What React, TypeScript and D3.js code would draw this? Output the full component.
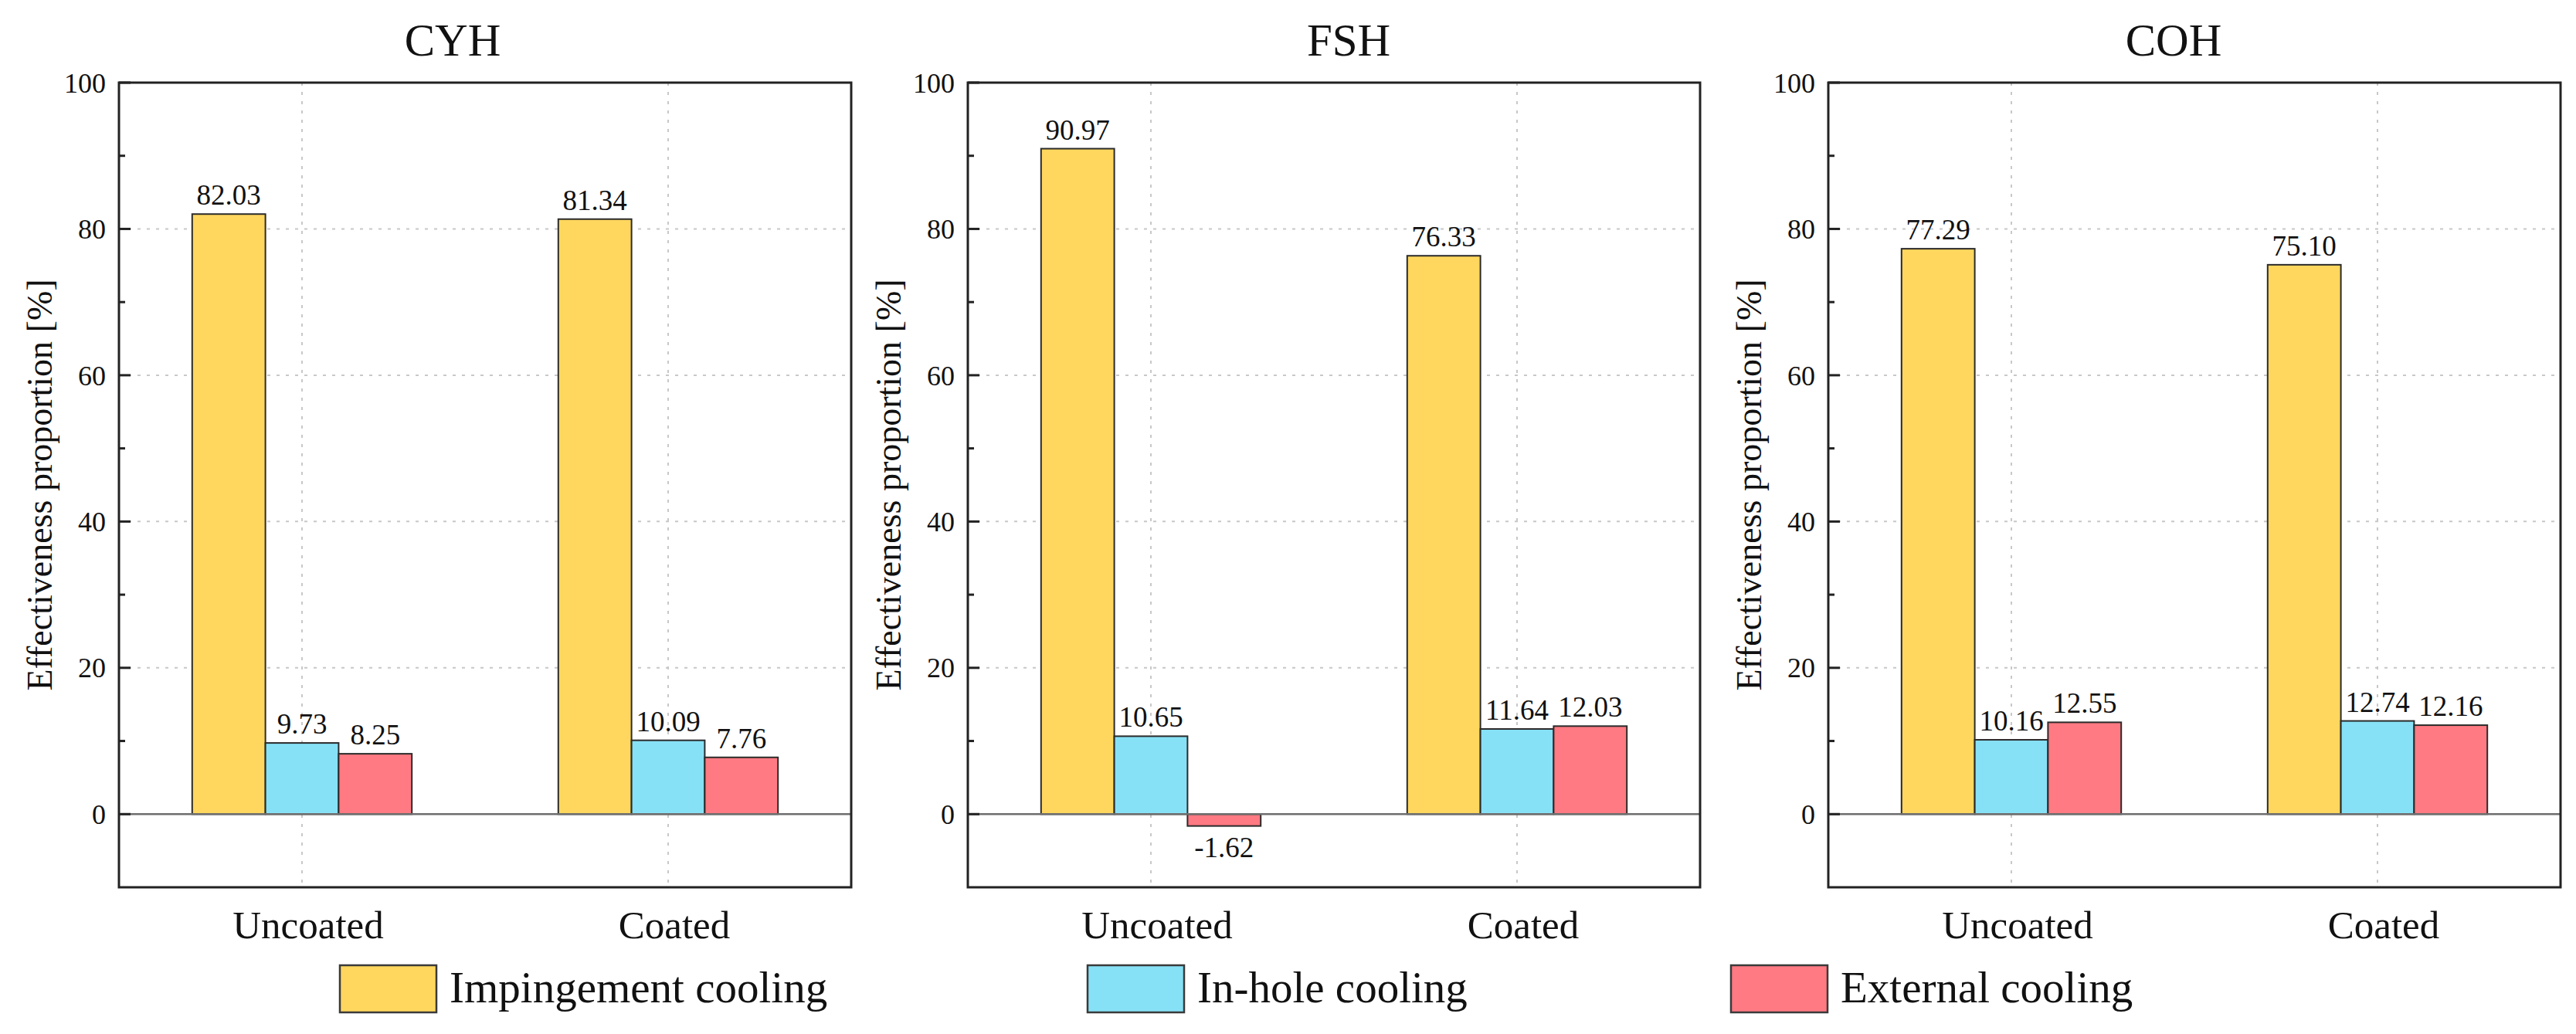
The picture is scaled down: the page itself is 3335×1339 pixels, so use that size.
import React, { useEffect, useRef } from 'react';
import * as d3 from 'd3';

const panelNames = ['CYH', 'FSH', 'COH'];
const categories = ['Uncoated', 'Coated'];
const seriesNames = ['Impingement cooling', 'In-hole cooling', 'External cooling'];
const seriesColors = ['#FFD75E', '#87E1F6', '#FF7A83'];

// values per panel: [category][series]
const cyhValues = [[82.03, 9.73, 8.25], [81.34, 10.09, 7.76]];
const fshValues = [[90.97, 10.65, -1.62], [76.33, 11.64, 12.03]];
const cohValues = [[77.29, 10.16, 12.55], [75.10, 12.74, 12.16]];

const majorTicks = [0, 20, 40, 60, 80, 100];
const minorTicks = [10, 30, 50, 70, 90];
const gridTicks = [20, 40, 60, 80];

const W = 3335;
const H = 1339;
const FONT = '"Liberation Serif", "Times New Roman", serif';

const App: React.FC = () => {
  const svgRef = useRef<SVGSVGElement>(null);

  useEffect(() => {
    if (!svgRef.current) return;
    d3.select(svgRef.current).selectAll('*').remove();
    const svg = d3.select(svgRef.current);

    const panelLefts = [154, 1253, 2367];
    const titleX = [586, 1746, 2814];
    const panelW = 948;
    const top = 107;
    const bottom = 1149;
    const allValues = [cyhValues, fshValues, cohValues];

    const y = d3.scaleLinear().domain([-10, 100]).range([bottom, top]);

    panelNames.forEach((name, pi) => {
      const values = allValues[pi];
      const g = svg.append('g').attr('transform', `translate(${panelLefts[pi]},0)`);

      const x0 = d3.scaleBand<string>().domain(categories).range([0, panelW]).padding(0);
      const x1 = d3.scaleBand<string>()
        .domain(seriesNames)
        .range([0, x0.bandwidth()])
        .paddingInner(0)
        .paddingOuter(1);

      // grid
      gridTicks.forEach(t => {
        g.append('line')
          .attr('x1', 0).attr('x2', panelW)
          .attr('y1', y(t)).attr('y2', y(t))
          .attr('stroke', '#c8c8c8')
          .attr('stroke-width', 2)
          .attr('stroke-dasharray', '4,8');
      });
      categories.forEach(c => {
        const cx = (x0(c) as number) + x0.bandwidth() / 2;
        g.append('line')
          .attr('x1', cx).attr('x2', cx)
          .attr('y1', top).attr('y2', bottom)
          .attr('stroke', '#c8c8c8')
          .attr('stroke-width', 2)
          .attr('stroke-dasharray', '4,8');
      });

      // bars
      categories.forEach((c, ci) => {
        seriesNames.forEach((s, si) => {
          const v = values[ci][si];
          const bx = (x0(c) as number) + (x1(s) as number);
          g.append('rect')
            .attr('x', bx)
            .attr('y', Math.min(y(v), y(0)))
            .attr('width', x1.bandwidth())
            .attr('height', Math.abs(y(v) - y(0)))
            .attr('fill', seriesColors[si])
            .attr('stroke', '#2b2b2b')
            .attr('stroke-width', 2);

          g.append('text')
            .attr('x', bx + x1.bandwidth() / 2)
            .attr('y', v >= 0 ? y(v) - 12 : y(v) + 40)
            .attr('text-anchor', 'middle')
            .attr('font-family', FONT)
            .attr('font-size', 37)
            .attr('fill', '#111')
            .text(v.toFixed(2));
        });
      });

      // zero line
      g.append('line')
        .attr('x1', 0).attr('x2', panelW)
        .attr('y1', y(0)).attr('y2', y(0))
        .attr('stroke', '#6e6e6e')
        .attr('stroke-width', 2.5);

      // ticks (inward)
      majorTicks.forEach(t => {
        g.append('line')
          .attr('x1', 0).attr('x2', 15)
          .attr('y1', y(t)).attr('y2', y(t))
          .attr('stroke', '#222').attr('stroke-width', 3);
        g.append('text')
          .attr('x', -17)
          .attr('y', y(t))
          .attr('dy', '0.35em')
          .attr('text-anchor', 'end')
          .attr('font-family', FONT)
          .attr('font-size', 36)
          .attr('fill', '#111')
          .text(t);
      });
      minorTicks.forEach(t => {
        g.append('line')
          .attr('x1', 0).attr('x2', 8)
          .attr('y1', y(t)).attr('y2', y(t))
          .attr('stroke', '#222').attr('stroke-width', 3);
      });

      // frame
      g.append('rect')
        .attr('x', 0).attr('y', top)
        .attr('width', panelW).attr('height', bottom - top)
        .attr('fill', 'none')
        .attr('stroke', '#222')
        .attr('stroke-width', 3);

      // category labels
      categories.forEach(c => {
        g.append('text')
          .attr('x', (x0(c) as number) + x0.bandwidth() / 2 + 8)
          .attr('y', 1215)
          .attr('text-anchor', 'middle')
          .attr('font-family', FONT)
          .attr('font-size', 51)
          .attr('fill', '#111')
          .text(c);
      });

      // y label
      g.append('text')
        .attr('transform', `translate(-87,${(top + bottom) / 2}) rotate(-90)`)
        .attr('text-anchor', 'middle')
        .attr('font-family', FONT)
        .attr('font-size', 46)
        .attr('fill', '#111')
        .text('Effectiveness proportion [%]');

      // title
      svg.append('text')
        .attr('x', titleX[pi])
        .attr('y', 72)
        .attr('text-anchor', 'middle')
        .attr('font-family', FONT)
        .attr('font-size', 59)
        .attr('fill', '#111')
        .text(name);
    });

    // legend
    const legendX = [440, 1408, 2241];
    seriesNames.forEach((s, si) => {
      svg.append('rect')
        .attr('x', legendX[si])
        .attr('y', 1250)
        .attr('width', 125)
        .attr('height', 61)
        .attr('fill', seriesColors[si])
        .attr('stroke', '#3a3a3a')
        .attr('stroke-width', 2.5);
      svg.append('text')
        .attr('x', legendX[si] + 142)
        .attr('y', 1298)
        .attr('font-family', FONT)
        .attr('font-size', 57)
        .attr('fill', '#111')
        .text(s);
    });
  }, []);

  return (
    <svg
      ref={svgRef}
      width={W}
      height={H}
      style={{ position: 'absolute', left: 0, top: 0, background: '#fff' }}
    />
  );
};

export default App;
